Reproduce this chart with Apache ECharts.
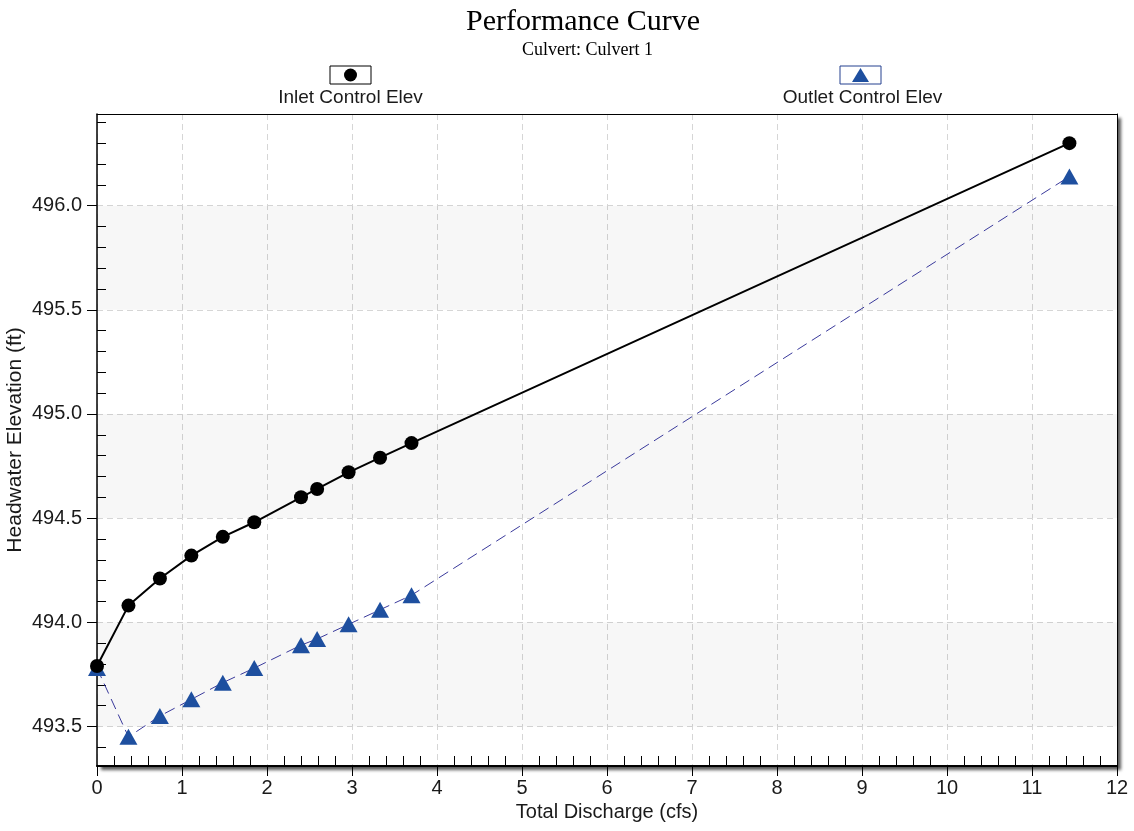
<!DOCTYPE html>
<html>
<head>
<meta charset="utf-8">
<title>Performance Curve</title>
<script src="https://cdn.jsdelivr.net/npm/echarts@6/dist/echarts.min.js"></script>
<style>
  html, body { margin: 0; padding: 0; background: #fff; }
  #chart { width: 1134px; height: 831px; }
</style>
</head>
<body>
<div id="chart"></div>
<script>
// Total discharge (cfs) for each computed point
const discharge = [0, 0.37, 0.74, 1.11, 1.48, 1.85, 2.40, 2.59, 2.96, 3.33, 3.70, 11.44];
// Headwater elevations (ft)
const inletElev  = [493.79, 494.08, 494.21, 494.32, 494.41, 494.48, 494.60, 494.64, 494.72, 494.79, 494.86, 496.30];
const outletElev = [493.78, 493.45, 493.55, 493.63, 493.71, 493.78, 493.89, 493.92, 493.99, 494.06, 494.13, 496.14];
// Labelled elevation ticks
const yTicks = [493.5, 494.0, 494.5, 495.0, 495.5, 496.0];
// Shaded elevation bands
const bands = [[493.5, 494.0], [494.5, 495.0], [495.5, 496.0]];

const Y_MIN = 493.31, Y_MAX = 496.44;
const X_MIN = 0, X_MAX = 12;

// Minor tick positions (every 0.1 ft / 0.2 cfs, skipping major ticks)
const yMinor = [];
for (let k = Math.ceil(Y_MIN * 10); k <= Math.floor(Y_MAX * 10); k++) {
  if (k % 5 !== 0) yMinor.push(k / 10);
}
const xMinor = [];
for (let k = X_MIN * 5; k <= X_MAX * 5; k++) {
  if (k % 5 !== 0) xMinor.push(k / 5);
}

const pairs = (xs, ys) => xs.map((x, i) => [x, ys[i]]);

const chart = echarts.init(document.getElementById('chart'), null, { renderer: 'canvas' });

const sans = 'Liberation Sans, Arial, sans-serif';
const labelFont = { fontFamily: sans, fontSize: 20, color: '#1a1a1a' };
const gridDash = { color: '#d6d6d6', type: [6, 4], width: 1 };

// Plain frame edge (top / right) drawn as a bare axis line
const frameAxis = (pos, min, max) => ({
  type: 'value', min: min, max: max, position: pos,
  axisLine: { show: true, onZero: false, lineStyle: { color: '#000', width: 1 } },
  axisTick: { show: false }, axisLabel: { show: false }, splitLine: { show: false }
});

const option = {
  animation: false,
  backgroundColor: '#ffffff',
  title: [
    {
      text: 'Performance Curve',
      left: 461, top: 2,
      textStyle: { fontFamily: 'Liberation Serif, Times New Roman, serif', fontSize: 30, fontWeight: 'normal', color: '#000' }
    },
    {
      text: 'Culvert: Culvert 1',
      left: 517, top: 36,
      textStyle: { fontFamily: 'Liberation Serif, Times New Roman, serif', fontSize: 18, fontWeight: 'normal', color: '#000' }
    }
  ],
  grid: {
    left: 97, right: 17, top: 114, bottom: 65,
    show: true,
    backgroundColor: '#ffffff',
    borderWidth: 0,
    shadowColor: 'rgba(0,0,0,0.65)',
    shadowBlur: 3,
    shadowOffsetX: 4,
    shadowOffsetY: 4,
    outerBoundsMode: 'none'
  },
  xAxis: [
    {
      type: 'value', min: X_MIN, max: X_MAX, interval: 1,
      name: 'Total Discharge (cfs)',
      nameLocation: 'middle', nameGap: 32,
      nameTextStyle: labelFont,
      axisLine: { show: true, onZero: false, lineStyle: { color: '#000', width: 2 } },
      axisTick: { show: true, inside: false, length: 10, lineStyle: { color: '#000', width: 1 } },
      axisLabel: Object.assign({ margin: 12 }, labelFont),
      splitLine: { show: true, lineStyle: gridDash }
    },
    {
      type: 'value', min: X_MIN, max: X_MAX, position: 'bottom',
      axisLine: { show: false },
      axisTick: { show: true, inside: true, length: 10, customValues: xMinor, lineStyle: { color: '#000', width: 1 } },
      axisLabel: { show: false },
      splitLine: { show: false }
    },
    frameAxis('top', X_MIN, X_MAX)
  ],
  yAxis: [
    {
      type: 'value', min: Y_MIN, max: Y_MAX, splitNumber: 6,
      name: 'Headwater Elevation (ft)',
      nameLocation: 'middle', nameGap: 71, nameRotate: 90,
      nameMoveOverlap: false,
      nameTextStyle: Object.assign({}, labelFont, { fontSize: 21 }),
      axisLine: { show: true, onZero: false, lineStyle: { color: '#000', width: 1.5 } },
      axisTick: { show: true, inside: false, length: 10, customValues: yTicks, lineStyle: { color: '#000', width: 1 } },
      axisLabel: Object.assign({ margin: 15, customValues: yTicks, formatter: v => v.toFixed(1) }, labelFont),
      splitLine: { show: true, lineStyle: gridDash }
    },
    {
      type: 'value', min: Y_MIN, max: Y_MAX, position: 'left',
      axisLine: { show: false },
      axisTick: { show: true, inside: true, length: 9, customValues: yMinor, lineStyle: { color: '#000', width: 1 } },
      axisLabel: { show: false },
      splitLine: { show: false }
    },
    frameAxis('right', Y_MIN, Y_MAX)
  ],
  series: [
    {
      name: 'Inlet Control Elev',
      type: 'line',
      data: pairs(discharge, inletElev),
      symbol: 'circle', symbolSize: 14,
      itemStyle: { color: '#000' },
      lineStyle: { color: '#000', width: 2 },
      z: 4,
      markArea: {
        silent: true,
        itemStyle: { color: 'rgba(0,0,0,0.032)' },
        data: bands.map(b => [{ yAxis: b[0] }, { yAxis: b[1] }])
      }
    },
    {
      name: 'Outlet Control Elev',
      type: 'line',
      data: pairs(discharge, outletElev),
      symbol: 'triangle', symbolSize: [18, 16],
      itemStyle: { color: '#1e4f9f' },
      lineStyle: { color: '#3a3a9c', width: 1, type: [11, 6] },
      z: 3
    }
  ],
  graphic: [
    // Inlet legend entry: boxed marker above the label
    { type: 'rect', shape: { x: 330, y: 66, width: 41, height: 18 }, style: { fill: '#fff', stroke: '#000', lineWidth: 1 } },
    { type: 'circle', shape: { cx: 350.5, cy: 75, r: 6.5 }, style: { fill: '#000' } },
    { type: 'text', x: 350.5, y: 98, style: { text: 'Inlet Control Elev', align: 'center', verticalAlign: 'middle', fill: '#1a1a1a', font: '19px "Liberation Sans", Arial, sans-serif' } },
    // Outlet legend entry
    { type: 'rect', shape: { x: 840, y: 66, width: 41, height: 18 }, style: { fill: '#fff', stroke: '#24408f', lineWidth: 1 } },
    { type: 'polygon', shape: { points: [[852, 82], [869, 82], [860.5, 68]] }, style: { fill: '#1e4f9f' } },
    { type: 'text', x: 862.5, y: 98, style: { text: 'Outlet Control Elev', align: 'center', verticalAlign: 'middle', fill: '#1a1a1a', font: '19px "Liberation Sans", Arial, sans-serif' } }
  ]
};

chart.setOption(option);
</script>
</body>
</html>
